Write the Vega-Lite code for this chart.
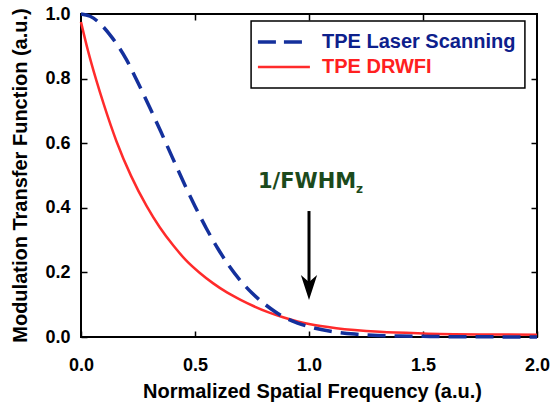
{
  "$schema": "https://vega.github.io/schema/vega-lite/v6.json",
  "width": 456,
  "height": 323,
  "autosize": {"type": "none"},
  "padding": {"left": 81, "top": 14, "right": 16, "bottom": 67},
  "background": "white",
  "config": {
    "view": {"stroke": "black", "strokeWidth": 2},
    "font": "Liberation Sans",
    "axis": {
      "domain": false,
      "grid": false,
      "labelFont": "Liberation Sans",
      "labelFontWeight": "bold",
      "labelFontSize": 18,
      "labelColor": "black",
      "titleFont": "Liberation Sans",
      "titleFontWeight": "bold",
      "titleFontSize": 20,
      "titleColor": "black",
      "tickColor": "black",
      "tickWidth": 1.5,
      "tickSize": -6
    }
  },
  "datasets": {
    "laser": [
      {"f": 0.0, "mtf": 1.0}, {"f": 0.04, "mtf": 0.993}, {"f": 0.075, "mtf": 0.976},
      {"f": 0.133, "mtf": 0.93}, {"f": 0.2, "mtf": 0.858}, {"f": 0.25, "mtf": 0.787},
      {"f": 0.3, "mtf": 0.713}, {"f": 0.35, "mtf": 0.636}, {"f": 0.4, "mtf": 0.557},
      {"f": 0.45, "mtf": 0.479}, {"f": 0.5, "mtf": 0.405}, {"f": 0.55, "mtf": 0.336},
      {"f": 0.6, "mtf": 0.274}, {"f": 0.65, "mtf": 0.22}, {"f": 0.7, "mtf": 0.174},
      {"f": 0.75, "mtf": 0.136}, {"f": 0.8, "mtf": 0.105}, {"f": 0.85, "mtf": 0.079},
      {"f": 0.9, "mtf": 0.058}, {"f": 0.95, "mtf": 0.043}, {"f": 1.0, "mtf": 0.032},
      {"f": 1.1, "mtf": 0.017}, {"f": 1.2, "mtf": 0.009}, {"f": 1.3, "mtf": 0.005},
      {"f": 1.4, "mtf": 0.003}, {"f": 1.5, "mtf": 0.002}, {"f": 1.6, "mtf": 0.001},
      {"f": 1.8, "mtf": 0.0005}, {"f": 2.0, "mtf": 0.0}
    ],
    "drwfi": [
      {"f": 0.0, "mtf": 0.975}, {"f": 0.03, "mtf": 0.888}, {"f": 0.067, "mtf": 0.795},
      {"f": 0.1, "mtf": 0.72}, {"f": 0.155, "mtf": 0.607}, {"f": 0.22, "mtf": 0.498},
      {"f": 0.288, "mtf": 0.405}, {"f": 0.346, "mtf": 0.339}, {"f": 0.405, "mtf": 0.283},
      {"f": 0.46, "mtf": 0.238}, {"f": 0.52, "mtf": 0.199}, {"f": 0.58, "mtf": 0.166},
      {"f": 0.64, "mtf": 0.138}, {"f": 0.7, "mtf": 0.115}, {"f": 0.756, "mtf": 0.096},
      {"f": 0.82, "mtf": 0.077}, {"f": 0.886, "mtf": 0.061}, {"f": 0.95, "mtf": 0.048},
      {"f": 1.0, "mtf": 0.04}, {"f": 1.12, "mtf": 0.027}, {"f": 1.31, "mtf": 0.016},
      {"f": 1.5, "mtf": 0.011}, {"f": 1.75, "mtf": 0.008}, {"f": 2.0, "mtf": 0.007}
    ]
  },
  "resolve": {"axis": {"x": "independent", "y": "independent"}},
  "layer": [
    {
      "data": {"name": "drwfi"},
      "mark": {"type": "line", "color": "#ff2b2b", "strokeWidth": 2.5, "interpolate": "monotone"},
      "encoding": {
        "x": {
          "field": "f", "type": "quantitative",
          "scale": {"domain": [0, 2], "nice": false, "zero": false},
          "axis": {
            "orient": "bottom", "values": [0, 0.5, 1, 1.5, 2], "format": ".1f",
            "labelPadding": 25, "labelFlush": false,
            "title": "Normalized Spatial Frequency (a.u.)",
            "titleX": 231, "titleY": 60, "titleBaseline": "alphabetic", "titleAnchor": "middle", "titleAlign": "center"
          }
        },
        "y": {
          "field": "mtf", "type": "quantitative",
          "scale": {"domain": [0, 1], "nice": false},
          "axis": {
            "orient": "left", "values": [0, 0.2, 0.4, 0.6, 0.8, 1.0], "format": ".1f",
            "labelPadding": 17, "labelFlush": false,
            "title": "Modulation Transfer Function (a.u.)",
            "titleX": -61, "titleY": 161, "titleAngle": -90, "titleBaseline": "middle", "titleAlign": "center"
          }
        }
      }
    },
    {
      "data": {"name": "laser"},
      "mark": {"type": "line", "color": "#14309c", "strokeWidth": 3.5, "strokeDash": [18, 9], "interpolate": "monotone"},
      "encoding": {
        "x": {"field": "f", "type": "quantitative", "axis": null},
        "y": {"field": "mtf", "type": "quantitative", "axis": null}
      }
    },
    {
      "data": {"values": [{"x1": 0.746, "x2": 1.947, "y1": 0.771, "y2": 0.978}]},
      "mark": {"type": "rect", "fill": "white", "stroke": "black", "strokeWidth": 1.5},
      "encoding": {
        "x": {
          "field": "x1", "type": "quantitative",
          "axis": {"orient": "top", "values": [0.5, 1, 1.5], "labels": false, "title": null}
        },
        "x2": {"field": "x2"},
        "y": {
          "field": "y1", "type": "quantitative",
          "axis": {"orient": "right", "values": [0.2, 0.4, 0.6, 0.8], "labels": false, "title": null}
        },
        "y2": {"field": "y2"}
      }
    },
    {
      "data": {"values": [{"x1": 0.776, "x2": 0.969, "y": 0.913}]},
      "mark": {"type": "rule", "color": "#14309c", "strokeWidth": 3.5, "strokeDash": [18, 8]},
      "encoding": {
        "x": {"field": "x1", "type": "quantitative", "axis": null},
        "x2": {"field": "x2"},
        "y": {"field": "y", "type": "quantitative", "axis": null}
      }
    },
    {
      "data": {"values": [{"x1": 0.776, "x2": 1.004, "y": 0.836}]},
      "mark": {"type": "rule", "color": "#ff2b2b", "strokeWidth": 2.5},
      "encoding": {
        "x": {"field": "x1", "type": "quantitative", "axis": null},
        "x2": {"field": "x2"},
        "y": {"field": "y", "type": "quantitative", "axis": null}
      }
    },
    {
      "data": {"values": [
        {"x": 1.057, "y": 0.913, "label": "TPE Laser Scanning", "c": "blue"},
        {"x": 1.057, "y": 0.836, "label": "TPE DRWFI", "c": "red"}
      ]},
      "mark": {"type": "text", "align": "left", "baseline": "middle", "font": "Liberation Sans", "fontWeight": "bold", "fontSize": 20},
      "encoding": {
        "x": {"field": "x", "type": "quantitative", "axis": null},
        "y": {"field": "y", "type": "quantitative", "axis": null},
        "text": {"field": "label"},
        "color": {"field": "c", "type": "nominal", "scale": {"domain": ["blue", "red"], "range": ["#0d208c", "#ff2020"]}, "legend": null}
      }
    },
    {
      "data": {"values": [{"x": 1.0, "y1": 0.39, "y2": 0.17}]},
      "mark": {"type": "rule", "color": "black", "strokeWidth": 3},
      "encoding": {
        "x": {"field": "x", "type": "quantitative", "axis": null},
        "y": {"field": "y1", "type": "quantitative", "axis": null},
        "y2": {"field": "y2"}
      }
    },
    {
      "data": {"values": [{"x": 1.0, "y": 0.153}]},
      "mark": {"type": "point", "shape": "M0,1 L-0.65,-1 L0,-0.45 L0.65,-1 Z", "size": 625, "filled": true, "color": "black", "opacity": 1},
      "encoding": {
        "x": {"field": "x", "type": "quantitative", "axis": null},
        "y": {"field": "y", "type": "quantitative", "axis": null}
      }
    },
    {
      "data": {"values": [{"x": 0.776, "y": 0.461, "label": "1/FWHM"}]},
      "mark": {"type": "text", "align": "left", "baseline": "alphabetic", "font": "DejaVu Sans", "fontWeight": "bold", "fontSize": 21, "color": "#1c4a1c"},
      "encoding": {
        "x": {"field": "x", "type": "quantitative", "axis": null},
        "y": {"field": "y", "type": "quantitative", "axis": null},
        "text": {"field": "label"}
      }
    },
    {
      "data": {"values": [{"x": 1.206, "y": 0.446, "label": "z"}]},
      "mark": {"type": "text", "align": "left", "baseline": "alphabetic", "font": "DejaVu Sans", "fontWeight": "bold", "fontSize": 12, "color": "#1c4a1c"},
      "encoding": {
        "x": {"field": "x", "type": "quantitative", "axis": null},
        "y": {"field": "y", "type": "quantitative", "axis": null},
        "text": {"field": "label"}
      }
    }
  ]
}
